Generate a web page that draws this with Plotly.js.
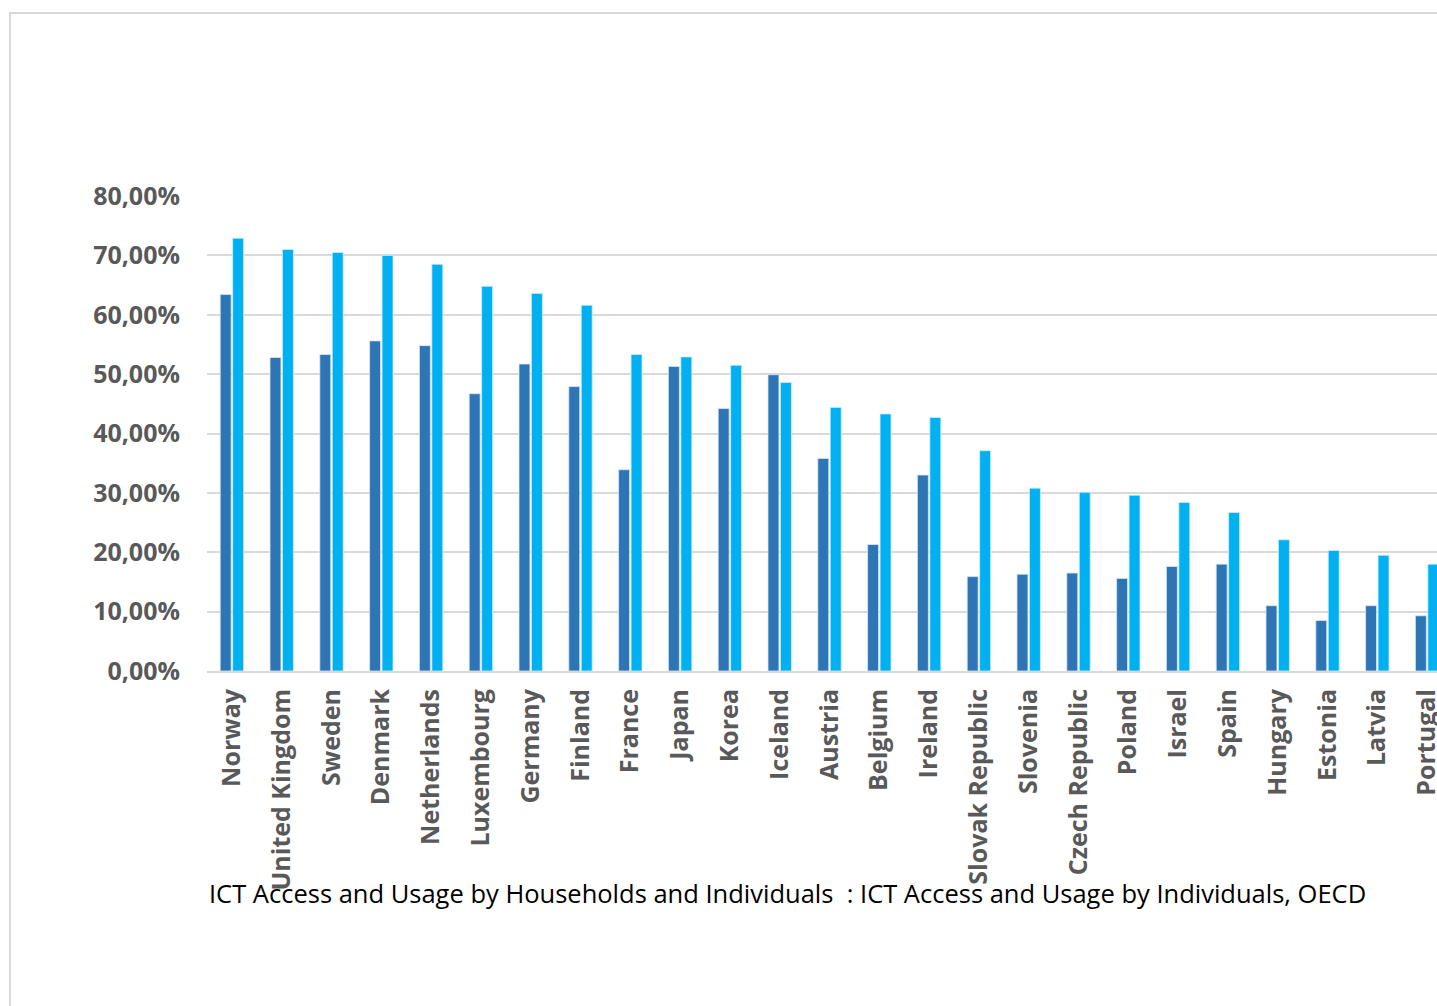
<!DOCTYPE html>
<html>
<head>
<meta charset="utf-8">
<script src="https://cdn.plot.ly/plotly-3.0.1.min.js"></script>
<style>
  html, body { margin: 0; padding: 0; background: #ffffff; overflow: hidden; }
  #chart { width: 1500px; height: 1006px; }
</style>
</head>
<body>
<div id="chart"></div>
<script>
// Categories (countries), in chart order
const countries = [
  "Norway", "United Kingdom", "Sweden", "Denmark", "Netherlands", "Luxembourg",
  "Germany", "Finland", "France", "Japan", "Korea", "Iceland", "Austria",
  "Belgium", "Ireland", "Slovak Republic", "Slovenia", "Czech Republic",
  "Poland", "Israel", "Spain", "Hungary", "Estonia", "Latvia", "Portugal"
];

// Series 1 (dark blue), percent
const seriesDark = [
  63.4, 52.8, 53.3, 55.6, 54.8, 46.7,
  51.7, 47.9, 33.9, 51.3, 44.2, 49.9, 35.8,
  21.3, 33.0, 15.9, 16.3, 16.5,
  15.6, 17.6, 18.0, 11.0, 8.5, 11.0, 9.3
];

// Series 2 (light blue), percent
const seriesLight = [
  72.9, 71.0, 70.5, 70.0, 68.5, 64.8,
  63.6, 61.6, 53.3, 52.9, 51.5, 48.6, 44.4,
  43.3, 42.7, 37.1, 30.8, 30.1,
  29.6, 28.4, 26.7, 22.1, 20.3, 19.5, 18.0
];

// Y axis ticks
const yTickVals = [0, 10, 20, 30, 40, 50, 60, 70, 80];
const yTickText = yTickVals.map(v => v.toFixed(2).replace(".", ",") + "%");

const captionText = "ICT Access and Usage by Households and Individuals  : ICT Access and Usage by Individuals, OECD";

const idx = countries.map((c, i) => i);

const traces = [
  {
    type: "bar",
    x: idx,
    y: seriesDark,
    name: "Series 1",
    marker: { color: "#2E75B6", line: { color: "#DCE6F2", width: 0.8 } },
    hoverinfo: "y"
  },
  {
    type: "bar",
    x: idx,
    y: seriesLight,
    name: "Series 2",
    marker: { color: "#00B0F0", line: { color: "#CDEFFC", width: 0.8 } },
    hoverinfo: "y"
  }
];

const plotW = 1500 - 207 - 20;   // plot width in px
const catW = 49.8;               // px per category

const layout = {
  width: 1500,
  height: 1006,
  margin: { l: 207, r: 20, t: 196, b: 335, pad: 0 },
  paper_bgcolor: "#ffffff",
  plot_bgcolor: "#ffffff",
  showlegend: false,
  barmode: "group",
  bargap: 0.5,
  bargroupgap: 0.12,
  xaxis: {
    range: [-0.5, -0.5 + plotW / catW],
    tickmode: "array",
    tickvals: idx,
    ticktext: countries,
    tickangle: -90,
    ticks: "outside",
    ticklen: 6,
    tickcolor: "rgba(0,0,0,0)",
    showgrid: false,
    zeroline: false,
    showline: true,
    linecolor: "#D9D9D9",
    linewidth: 2,
    ticklabeloverflow: "allow",
    tickfont: { family: "Open Sans", size: 25, color: "#595959", weight: "bold" },
    fixedrange: true
  },
  yaxis: {
    range: [0, 80],
    tickmode: "array",
    tickvals: yTickVals,
    ticktext: yTickText,
    ticks: "outside",
    ticklen: 21,
    tickcolor: "rgba(0,0,0,0)",
    showgrid: true,
    gridcolor: "#D9D9D9",
    gridwidth: 2,
    zeroline: false,
    showline: false,
    tickfont: { family: "Open Sans", size: 25, color: "#595959", weight: "bold" },
    fixedrange: true
  },
  annotations: [
    {
      xref: "paper", yref: "paper",
      x: (787.5 - 207) / plotW, y: -0.4674,
      xanchor: "center", yanchor: "middle",
      showarrow: false,
      text: captionText,
      font: { family: "Open Sans", size: 25.5, color: "#000000" }
    }
  ],
  shapes: [
    {
      type: "rect",
      xref: "paper", yref: "paper",
      x0: (10 - 207) / plotW, x1: 1.05,
      y0: -0.72, y1: 1.3853,
      line: { color: "#D9D9D9", width: 2 },
      fillcolor: "rgba(0,0,0,0)",
      layer: "below"
    }
  ]
};

Plotly.newPlot("chart", traces, layout, { displayModeBar: false, staticPlot: true });
</script>
</body>
</html>
